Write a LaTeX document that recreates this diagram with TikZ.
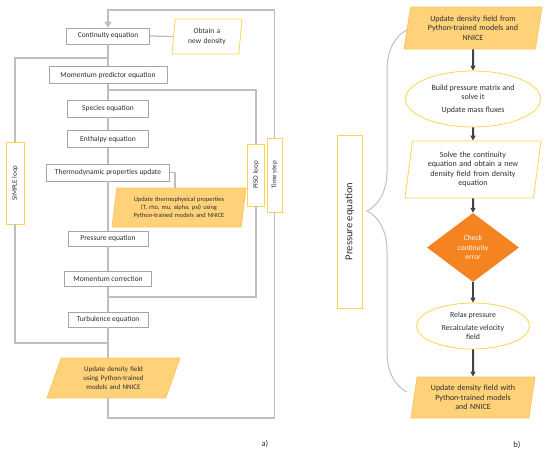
\documentclass[tikz,border=0pt]{standalone}
\usepackage{fontspec}
\setmainfont{Carlito}
\usepackage{tikz}
\usetikzlibrary{shapes.geometric, arrows.meta, positioning, decorations.pathreplacing}

\definecolor{linegray}{HTML}{BFBFBF}
\definecolor{boxgray}{HTML}{A6A6A6}
\definecolor{softyellow}{HTML}{FFD54F}
\definecolor{paleorange}{HTML}{FFD27A}
\definecolor{orangeedge}{HTML}{FFC65C}
\definecolor{deeporange}{HTML}{F5831F}
\definecolor{textgray}{HTML}{2E2E2E}

\begin{document}
\begin{tikzpicture}[x=1pt, y=-1pt,
    every node/.style={text=textgray, inner sep=0pt},
    box/.style={draw=boxgray, line width=0.7pt, rectangle, fill=white, minimum height=16pt, align=center, font=\fontsize{7.5}{9}\selectfont},
    para/.style={trapezium, trapezium stretches body, draw=softyellow, line width=0.8pt, fill=white, align=center, font=\fontsize{8}{9.5}\selectfont},
    hotpara/.style={para, fill=paleorange, draw=orangeedge},
    loopbox/.style={draw=softyellow, line width=0.9pt, fill=white, rotate=90, font=\fontsize{7}{8}\selectfont},
    oval/.style={ellipse, draw=softyellow, line width=0.8pt, fill=white, align=center, font=\fontsize{8}{9}\selectfont},
    loopline/.style={draw=linegray, line width=1.3pt},
    flow/.style={-{Triangle[length=5pt,width=5pt]}, draw=textgray!90, line width=2pt}
]
\useasboundingbox (0,0) rectangle (550,458);

% a) solver chain
\node[box, minimum width=83pt] (cont) at (108,36) {Continuity equation};
\node[box, minimum width=118pt, minimum height=17pt] (mompred) at (108,75) {Momentum predictor equation};
\node[box, minimum width=81pt, minimum height=17pt] (species) at (108,108.5) {Species equation};
\node[box, minimum width=81pt, minimum height=17pt] (enthalpy) at (108,139) {Enthalpy equation};
\node[box, minimum width=123pt, minimum height=17pt] (thermo) at (108,172.5) {Thermodynamic properties update};
\node[box, minimum width=80pt, minimum height=15pt] (press) at (108,238.5) {Pressure equation};
\node[box, minimum width=87pt, minimum height=15pt] (momcorr) at (108,279) {Momentum correction};
\node[box, minimum width=80pt, minimum height=15pt] (turb) at (108,319.5) {Turbulence equation};

\node[para, trapezium left angle=79, trapezium right angle=101, minimum width=70pt, minimum height=35pt, text width=52pt, font=\fontsize{7.5}{10}\selectfont] (obtain) at (207,36.5) {Obtain a\\new density};
\node[hotpara, trapezium left angle=77, trapezium right angle=103, minimum width=134pt, minimum height=39pt, text width=112pt, font=\fontsize{6.4}{7.8}\selectfont] (thermoupd) at (179,207.5) {Update thermophysical properties\\(T, rho, mu, alpha, psi) using\\Python-trained models and NNICE};
\node[hotpara, trapezium left angle=58, trapezium right angle=122, minimum width=133pt, minimum height=40pt, text width=78pt, font=\fontsize{7}{9}\selectfont] (densa) at (113.5,378) {Update density field\\using Python-trained\\models and NNICE};

% a) loop labels
\node[loopbox, minimum width=82pt, minimum height=18pt] (simple) at (15,183) {SIMPLE loop};
\node[loopbox, minimum width=62pt, minimum height=17pt] (piso) at (256,175) {PISO loop};
\node[loopbox, minimum width=74pt, minimum height=15pt] (tstep) at (274.5,175) {Time step};

\coordinate (simpletop) at (108,58);
\coordinate (simplebot) at (108,343);
\coordinate (pisotop) at (108,90);
\coordinate (pisobot) at (108,297);
\coordinate (steptop) at (108,10);
\coordinate (stepbot) at (108,418);
\coordinate (thermoknee) at (175,172.5);

\foreach \a/\b in {cont/mompred, mompred/species, species/enthalpy, enthalpy/thermo, thermo/press, press/momcorr, momcorr/turb}
    \draw[loopline] (\a.south) -- (\b.north);
\draw[loopline] (turb.south) -- (turb.south |- densa.north);
\draw[loopline] (cont.east) -- (obtain.west);
\draw[loopline] (thermo.east) -- (thermoknee) -- (thermoknee |- thermoupd.north);

\draw[loopline] (simpletop) -| (simple.east);
\draw[loopline] (simple.west) |- (simplebot);
\draw[loopline] (pisotop) -| (piso.east);
\draw[loopline] (piso.west) |- (pisobot);
\draw[loopline, -{Triangle[length=6pt,width=7pt]}] (tstep.east) |- (steptop) -- (cont.north);
\draw[loopline] (stepbot |- densa.south) -- (stepbot) -| (tstep.west);

% b) pressure equation
\node[hotpara, trapezium left angle=75, trapezium right angle=105, minimum width=138pt, minimum height=42pt, text width=104pt] (densb) at (473,28) {Update density field from\\Python-trained models and\\NNICE};
\node[oval, minimum width=135pt, minimum height=56pt] (pmatrix) at (473,99) {Build pressure matrix and\\solve it\\[4pt]Update mass fluxes};
\node[para, trapezium left angle=78, trapezium right angle=102, minimum width=136pt, minimum height=57pt, text width=104pt] (solve) at (473,169.5) {Solve the continuity\\equation and obtain a new\\density field from density\\equation};
\node[diamond, aspect=1.33, fill=deeporange, minimum width=92pt, minimum height=69pt, align=center, text=white, font=\fontsize{7.5}{9.5}\selectfont] (check) at (473,247.5) {Check\\continuity\\error};
\node[oval, minimum width=113pt, minimum height=46pt, font=\fontsize{7.8}{9}\selectfont] (relax) at (473,326) {Relax pressure\\[4pt]Recalculate velocity\\field};
\node[hotpara, trapezium left angle=76, trapezium right angle=104, minimum width=124pt, minimum height=41pt, text width=94pt] (densc) at (473,397.5) {Update density field with\\Python-trained models\\and NNICE};

\foreach \a/\b in {densb/pmatrix, pmatrix/solve, solve/check, check/relax, relax/densc}
    \draw[flow] (\a.south) -- (\b.north);

\node[draw=softyellow, line width=0.9pt, fill=white, rotate=90, minimum width=173pt, minimum height=25pt, font=\fontsize{10.5}{12}\selectfont] (peq) at (349.5,221.5) {Pressure equation};

\coordinate (bracebot) at (407,392);
\coordinate (bracetop) at (407,30);
\draw[draw=linegray, line width=1pt, decorate, decoration={brace, amplitude=40pt}] (bracebot) -- (bracetop);

\node[font=\fontsize{8.5}{10}\selectfont] (labela) at (265,444) {a)};
\node[font=\fontsize{8.5}{10}\selectfont] (labelb) at (517,445) {b)};
\end{tikzpicture}
\end{document}
